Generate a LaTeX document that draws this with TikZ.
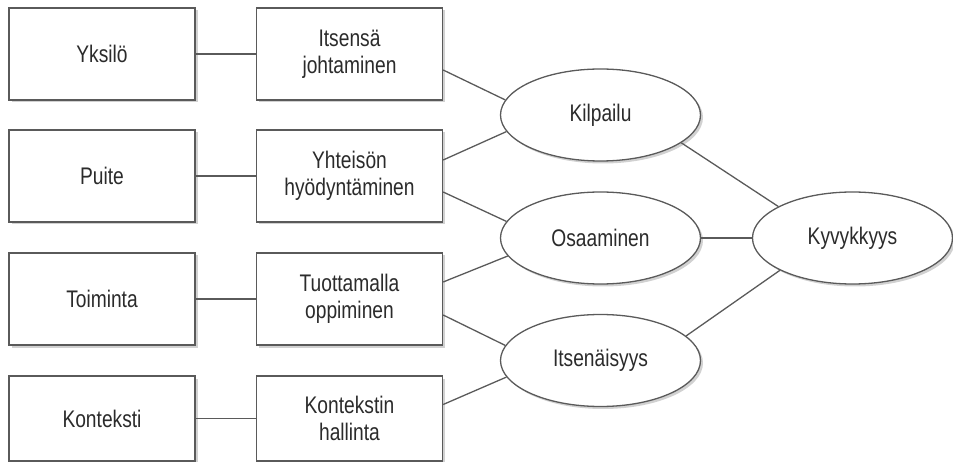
\documentclass[tikz,border=0pt]{standalone}
\usepackage{fontspec}
\setmainfont{Liberation Sans}[FakeStretch=0.8]
\usetikzlibrary{shapes.geometric,shadows,calc}
\definecolor{edge}{HTML}{5A5A5A}
\definecolor{txt}{HTML}{2B2B2B}
\tikzset{
  shade/.style={drop shadow={shadow xshift=2.5pt,shadow yshift=-2.5pt,fill=black!18,opacity=1}},
  boxnode/.style={draw=edge,line width=1.3pt,fill=white,shade,minimum width=186pt,minimum height=92pt,inner sep=0pt,align=center,text=txt,font=\fontsize{24}{26.5}\selectfont},
  ellnode/.style={ellipse,draw=edge,line width=1.3pt,fill=white,shade,minimum width=200pt,minimum height=92pt,inner sep=0pt,align=center,text=txt,font=\fontsize{24}{26.5}\selectfont},
  conn/.style={draw=edge,line width=1.3pt}
}
\begin{document}
\begin{tikzpicture}[x=1pt,y=-1pt]
\useasboundingbox (0,0) rectangle (953,462);
\node[boxnode] (l1) at (102,54) {Yksilö};
\node[boxnode] (l2) at (102,176) {Puite};
\node[boxnode] (l3) at (102,299) {Toiminta};
\node[boxnode,minimum height=85pt] (l4) at (102,418.5) {Konteksti};
\node[boxnode] (m1) at (349.5,54) {Itsensä\\johtaminen};
\node[boxnode] (m2) at (349.5,176) {Yhteisön\\hyödyntäminen};
\node[boxnode] (m3) at (349.5,299) {Tuottamalla\\oppiminen};
\node[boxnode,minimum height=85pt] (m4) at (349.5,418.5) {Kontekstin\\hallinta};
\node[ellnode] (e1) at (600.5,115) {Kilpailu};
\node[ellnode] (e2) at (600.5,238) {Osaaminen};
\node[ellnode] (e3) at (600.5,360.5) {Itsenäisyys};
\node[ellnode] (k) at (852.5,238) {Kyvykkyys};
\draw[conn] (l1) -- (m1);
\draw[conn] (l2) -- (m2);
\draw[conn] (l3) -- (m3);
\draw[conn] (l4) -- (m4);
\draw[conn] ($(m1.east)+(0,16)$) -- (e1.171);
\draw[conn] ($(m2.east)+(0,-16)$) -- (e1.190);
\draw[conn] ($(m2.east)+(0,16)$) -- (e2.170);
\draw[conn] ($(m3.east)+(0,-17)$) -- (e2.191);
\draw[conn] ($(m3.east)+(0,16)$) -- (e3.171);
\draw[conn] ($(m4.east)+(0,-14)$) -- (e3.190);
\draw[conn] (e1.-19) -- (k.157);
\draw[conn] (e2) -- (k);
\draw[conn] (e3.16) -- (k.204);
\end{tikzpicture}
\end{document}
